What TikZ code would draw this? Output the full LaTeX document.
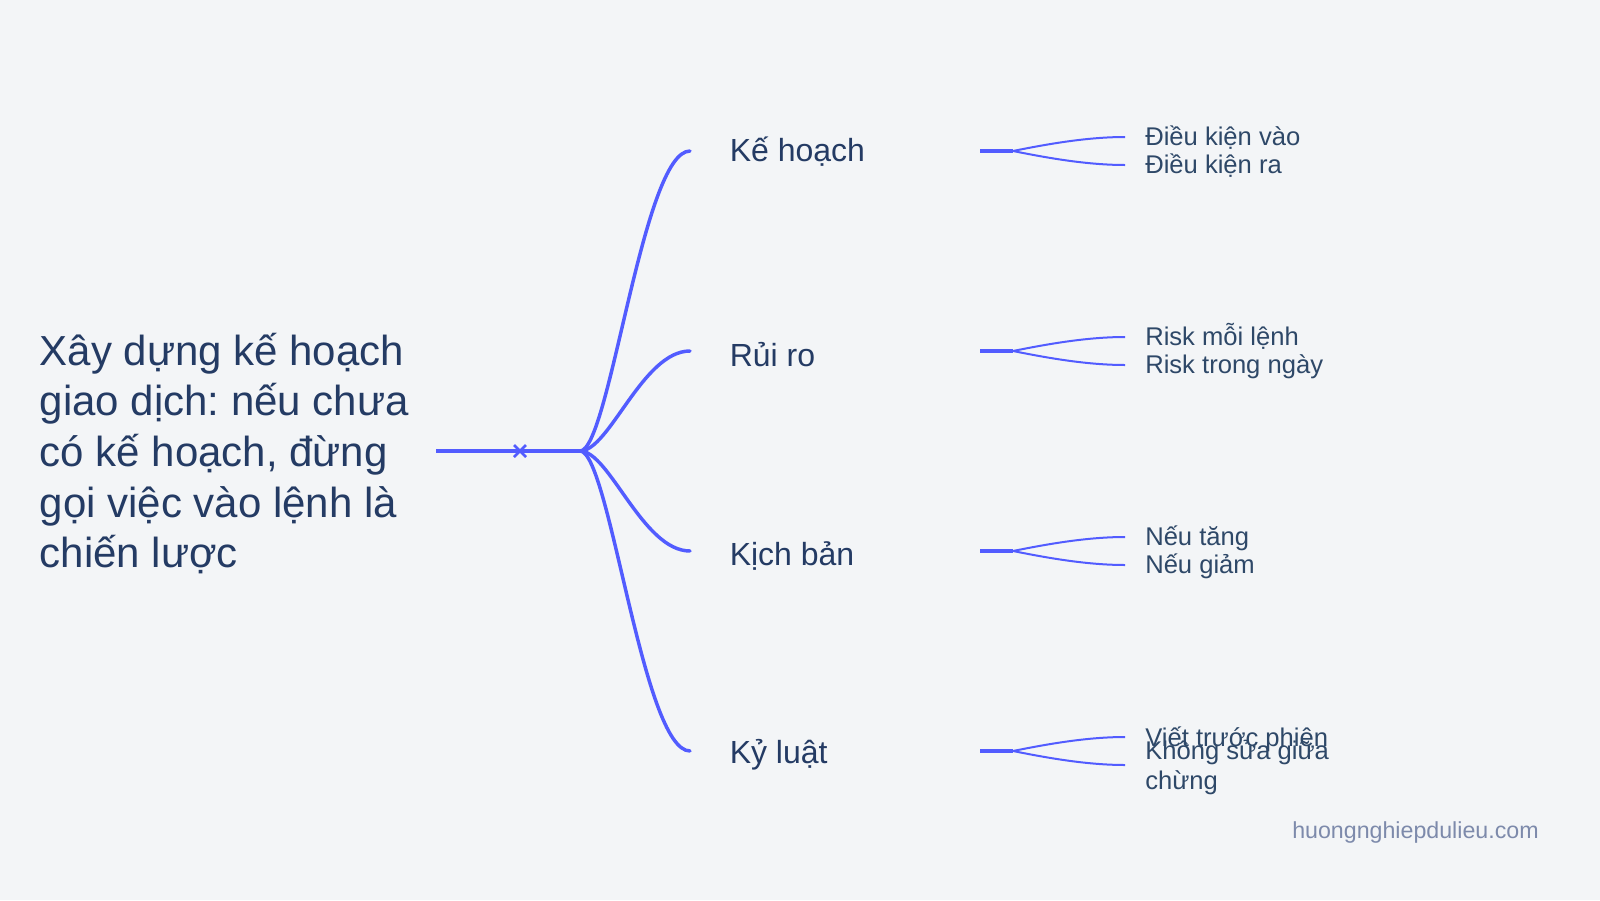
\documentclass[tikz,border=0pt]{standalone}
\usepackage{fontspec}
\setmainfont{Liberation Sans}
\usetikzlibrary{calc}
\frenchspacing
\definecolor{bg}{HTML}{F3F5F7}
\definecolor{linkc}{HTML}{525CFF}
\definecolor{ink}{HTML}{243B64}
\definecolor{leafink}{HTML}{2E4868}
\definecolor{markc}{HTML}{7D8AAB}
\begin{document}
\begin{tikzpicture}[x=0.75pt,y=-0.75pt,
  rootlbl/.style={anchor=base west, inner sep=0pt, text=ink, font=\fontsize{31.5}{38}\selectfont},
  branchlbl/.style={anchor=base west, inner sep=0pt, text=ink, font=\fontsize{24}{28}\selectfont},
  leaflbl/.style={anchor=base west, inner sep=0pt, text=leafink, font=\fontsize{19.2}{22.5}\selectfont},
  marklbl/.style={anchor=base west, inner sep=0pt, text=markc, font=\fontsize{17.4}{21}\selectfont},
  rootlink/.style={draw=linkc, line width=3pt},
  crossmark/.style={draw=linkc, line width=1.9pt},
  branchlink/.style={draw=linkc, line width=2.6pt, line cap=round},
  leafbase/.style={draw=linkc, line width=2.5pt},
  leaflink/.style={draw=linkc, line width=1.5pt}]
\fill[bg] (0,0) rectangle (1600,900);
\useasboundingbox (0,0) rectangle (1600,900);

% root
\node[rootlbl] (root) at (39.5,365) {\vtop{\hbox{Xây dựng kế hoạch}\hbox{giao dịch: nếu chưa}\hbox{có kế hoạch, đừng}\hbox{gọi việc vào lệnh là}\hbox{chiến lược}}};
\coordinate (rs) at (436,451);
\coordinate (cx) at (520,451);
\coordinate (j) at (580,451);
\draw[rootlink] (rs) -- (j);
\draw[crossmark] ($(cx)+(-6,-6)$) -- ($(cx)+(6,6)$);
\draw[crossmark] ($(cx)+(-6,6)$) -- ($(cx)+(6,-6)$);

% branches
\foreach \i/\Y/\B/\T in {1/151/161.7/{Kế hoạch},2/351/366.7/{Rủi ro},3/551/565/{Kịch bản},4/751/763.3/{Kỷ luật}}{
  \coordinate (e\i) at (690,\Y);
  \node[branchlbl] (b\i) at (729.5,\B) {\T};
  \draw[branchlink] (j) .. controls ($(j)+(29.5,0)$) and ($(e\i)+(-47.4,0)$) .. (e\i);
  \coordinate (s\i) at (980,\Y);
  \coordinate (f\i) at (1013,\Y);
  \coordinate (t\i) at (1125,\Y-14);
  \coordinate (u\i) at (1125,\Y+14);
  \draw[leafbase] (s\i) -- (f\i);
  \draw[leaflink] (f\i) .. controls ($(f\i)+(30,-6)$) and ($(t\i)+(-40,0)$) .. (t\i);
  \draw[leaflink] (f\i) .. controls ($(f\i)+(30,6)$) and ($(u\i)+(-40,0)$) .. (u\i);
}

% leaves
\node[leaflbl] (l11) at (1145,145.5) {Điều kiện vào};
\node[leaflbl] (l12) at (1145,173.5) {Điều kiện ra};
\node[leaflbl] (l21) at (1145,345.5) {Risk mỗi lệnh};
\node[leaflbl] (l22) at (1145,373.5) {Risk trong ngày};
\node[leaflbl] (l31) at (1145,545.5) {Nếu tăng};
\node[leaflbl] (l32) at (1145,573.5) {Nếu giảm};
\node[leaflbl] (l41) at (1145,746) {Viết trước phiên};
\node[leaflbl] (l42) at (1145,759.3) {\vtop{\hbox{Không sửa giữa}\hbox{chừng}}};

% watermark
\node[marklbl] (wm) at (1292,838.3) {huongnghiepdulieu.com};
\end{tikzpicture}
\end{document}
